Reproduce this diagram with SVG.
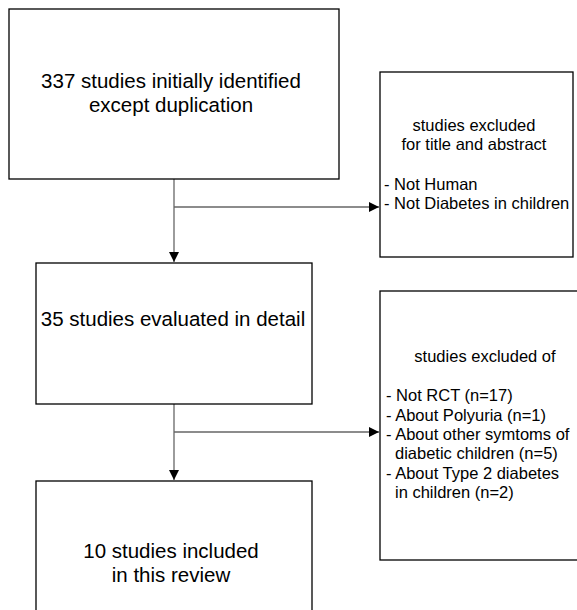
<svg xmlns="http://www.w3.org/2000/svg" width="577" height="610" viewBox="0 0 577 610">
<defs>
<style>
.box{fill:#fff;stroke:#000;stroke-width:1.3}
.con{fill:none;stroke:#666;stroke-width:1.3}
.big{font-family:"Liberation Sans",Arial,sans-serif;font-size:20.5px;fill:#000;text-anchor:middle}
.sm{font-family:"Liberation Sans",Arial,sans-serif;font-size:16.5px;fill:#000}
.mid{text-anchor:middle}
</style>
<marker id="ah" viewBox="0 0 10 10" refX="10" refY="5" markerWidth="10" markerHeight="10" markerUnits="userSpaceOnUse" orient="auto">
<path d="M0,0 L10,5 L0,10 Z" fill="#000"/>
</marker>
</defs>
<rect width="577" height="610" fill="#fff"/>
<g id="connectors">
<path class="con" d="M174,179 V262" marker-end="url(#ah)"/>
<path class="con" d="M174,207 H379" marker-end="url(#ah)"/>
<path class="con" d="M174,404 V480" marker-end="url(#ah)"/>
<path class="con" d="M174,432 H379" marker-end="url(#ah)"/>
</g>
<g id="n1">
<rect class="box" x="9" y="9" width="330" height="170"/>
<text class="big" x="171" y="88">337 studies initially identified</text>
<text class="big" x="171" y="112">except duplication</text>
</g>
<g id="n2">
<rect class="box" x="380" y="72" width="193" height="185"/>
<text class="sm mid" x="474" y="131">studies excluded</text>
<text class="sm mid" x="474" y="150">for title and abstract</text>
<text class="sm" x="384" y="189.5">- Not Human</text>
<text class="sm" x="384" y="209">- Not Diabetes in children</text>
</g>
<g id="n3">
<rect class="box" x="36" y="263" width="276" height="141"/>
<text class="big" x="173" y="326">35 studies evaluated in detail</text>
</g>
<g id="n4">
<rect class="box" x="380" y="291" width="210" height="269"/>
<text class="sm mid" x="485" y="362">studies excluded of</text>
<text class="sm" x="386" y="401">- Not RCT (n=17)</text>
<text class="sm" x="386" y="421">- About Polyuria (n=1)</text>
<text class="sm" x="386" y="440">- About other symtoms of</text>
<text class="sm" x="395" y="459">diabetic children (n=5)</text>
<text class="sm" x="386" y="479">- About Type 2 diabetes</text>
<text class="sm" x="395" y="498">in children (n=2)</text>
</g>
<g id="n5">
<rect class="box" x="36" y="481" width="276" height="140"/>
<text class="big" x="171" y="558">10 studies included</text>
<text class="big" x="171" y="582">in this review</text>
</g>
</svg>
